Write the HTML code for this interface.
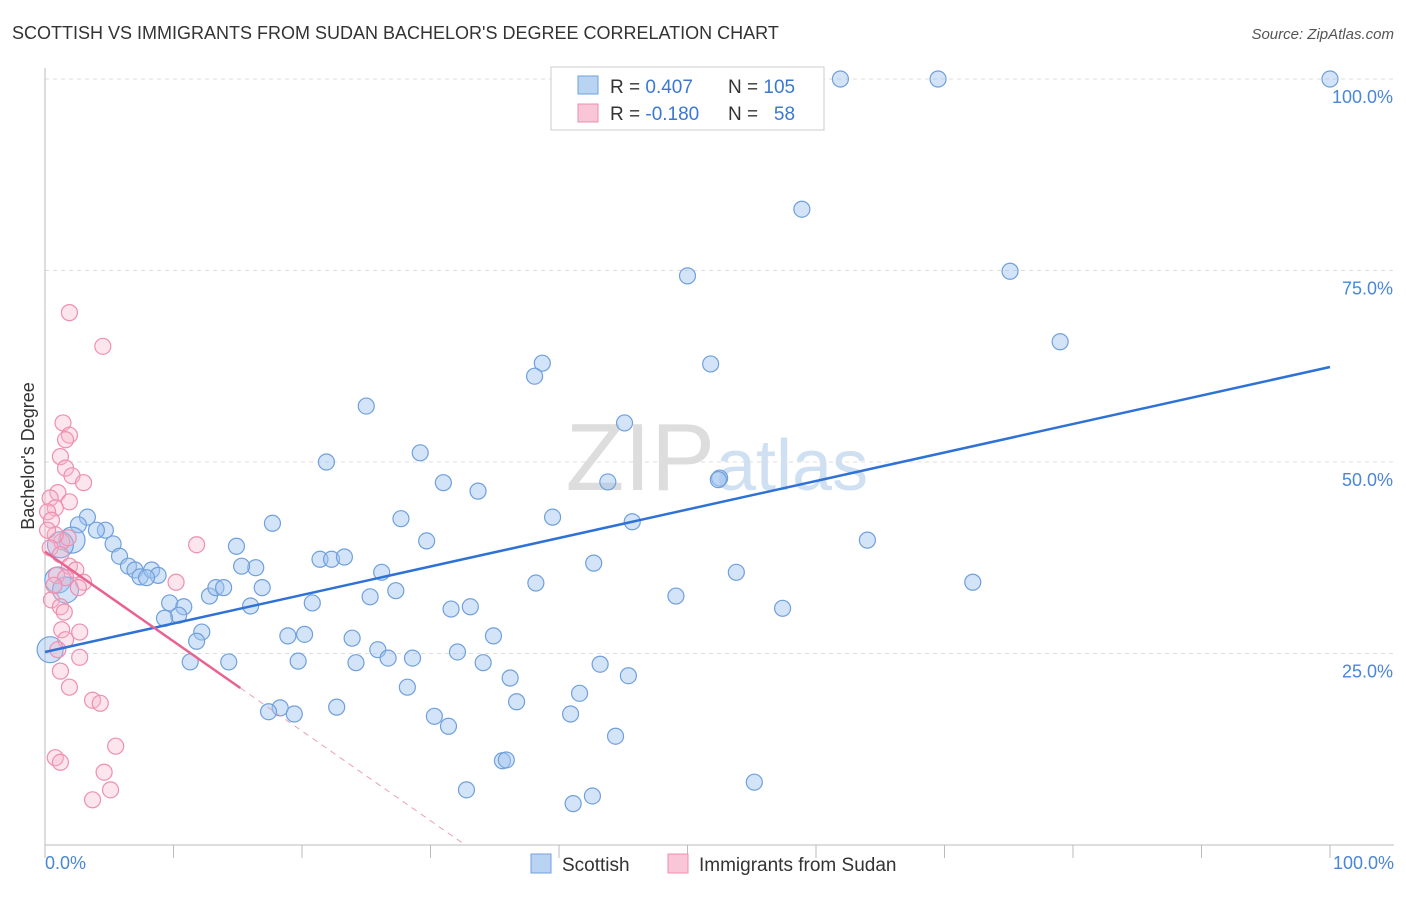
<!DOCTYPE html>
<html><head><meta charset="utf-8"><style>
body{margin:0;background:#fff;font-family:"Liberation Sans",sans-serif}
svg text{font-family:"Liberation Sans",sans-serif}
</style></head><body>
<svg width="1406" height="892" xmlns="http://www.w3.org/2000/svg">
<text x="12" y="39" font-size="18" fill="#333">SCOTTISH VS IMMIGRANTS FROM SUDAN BACHELOR'S DEGREE CORRELATION CHART</text>
<text x="1394" y="39" font-size="15" fill="#555" font-style="italic" text-anchor="end">Source: ZipAtlas.com</text>
<text x="715" y="490" font-size="96" fill="#ddd" text-anchor="end" font-family="Liberation Serif">ZIP</text>
<text x="716" y="490" font-size="72" fill="#cfe0f3">atlas</text>
<g id="grid"></g>
<g id="axes"></g>
<g id="marks"></g>
<text transform="translate(34,456) rotate(-90)" font-size="18" fill="#333" text-anchor="middle">Bachelor's Degree</text>
<text x="45" y="869" font-size="18" fill="#4a86d8">0.0%</text>
<text x="1394" y="869" font-size="18" fill="#4a86d8" text-anchor="end">100.0%</text>
<g>
<rect x="551" y="67" width="273" height="63" fill="#fff" stroke="#ccc"/>
<rect x="578" y="76" width="20" height="18" fill="#b9d3f3" stroke="#6fa0dc"/>
<rect x="578" y="104" width="20" height="18" fill="#f8c6d6" stroke="#ef8fb0"/>
<text x="610" y="93" font-size="19" fill="#333">R = <tspan fill="#3a78d4">0.407</tspan></text>
<text x="728" y="93" font-size="19" fill="#333">N = <tspan fill="#3a78d4">105</tspan></text>
<text x="610" y="120" font-size="19" fill="#333">R = <tspan fill="#3a78d4">-0.180</tspan></text>
<text x="728" y="120" font-size="19" fill="#333">N = <tspan fill="#3a78d4">&#160;&#160;58</tspan></text>
</g>
<g>
<rect x="531" y="854" width="20" height="19" fill="#b9d3f3" stroke="#6fa0dc"/>
<text x="562" y="871" font-size="19" fill="#333">Scottish</text>
<rect x="668" y="854" width="20" height="19" fill="#f8c6d6" stroke="#ef8fb0"/>
<text x="699" y="871" font-size="19" fill="#333">Immigrants from Sudan</text>
</g>
</svg>
<script>
const yTicks=[25,50,75,100];
const yTickLabels=["25.0%","50.0%","75.0%","100.0%"];
const xTicks=[0,10,20,30,40,50,60,70,80,90,100];
const blueX=[61.9,69.5,100,58.9,50.0,75.1,79.0,51.8,38.7,38.1,25.0,45.1,21.9,29.2,31.0,33.7,52.5,52.4,43.8,39.5,45.7,27.7,29.7,17.7,14.9,4.7,4.0,3.3,2.6,2.1,5.3,5.8,6.5,7.0,7.4,8.3,8.8,7.9,9.7,10.8,10.4,9.3,12.2,11.8,11.3,14.3,12.8,13.3,13.9,16.0,16.9,16.4,15.3,21.4,22.3,23.3,26.2,25.3,27.3,20.8,18.9,20.2,23.9,19.7,24.2,25.9,26.7,28.6,32.1,34.1,31.6,33.1,34.9,38.2,42.7,49.1,53.8,57.4,64.0,72.2,43.2,45.4,36.2,36.7,41.6,28.2,22.7,18.3,17.4,19.4,30.3,31.4,40.9,44.4,35.6,35.9,32.8,55.2,42.6,41.1,1.0,0.4,1.2,1.6];
const blueY=[100,100,100,83.0,74.3,74.9,65.7,62.8,62.9,61.2,57.3,55.1,50.0,51.2,47.3,46.2,47.9,47.7,47.4,42.8,42.2,42.6,39.7,42.0,39.0,41.1,41.1,42.8,41.8,39.8,39.3,37.7,36.4,35.9,35.0,35.9,35.2,34.9,31.6,31.1,30.0,29.6,27.8,26.6,23.9,23.9,32.5,33.6,33.6,31.2,33.6,36.2,36.4,37.3,37.3,37.6,35.6,32.4,33.2,31.6,27.3,27.5,27.0,24.0,23.8,25.5,24.4,24.4,25.2,23.8,30.8,31.1,27.3,34.2,36.8,32.5,35.6,30.9,39.8,34.3,23.6,22.1,21.8,18.7,19.8,20.6,18.0,17.9,17.4,17.1,16.8,15.5,17.1,14.2,11.0,11.1,7.2,8.2,6.4,5.4,34.6,25.5,39.2,33.3];
const pinkX=[1.9,4.5,1.4,1.9,1.6,1.2,1.6,2.1,3.0,1.0,0.4,1.9,0.8,0.2,0.5,11.8,1.3,1.8,0.8,0.2,0.4,1.2,1.9,2.4,0.9,1.6,3.0,2.6,0.5,1.2,1.5,0.7,10.2,2.7,1.3,1.6,1.0,2.7,1.2,1.9,3.7,4.3,0.8,1.2,5.5,4.6,5.1,3.7];
const pinkY=[69.5,65.1,55.1,53.5,52.9,50.7,49.2,48.2,47.3,46.0,45.3,44.8,44.0,43.5,42.4,39.2,39.6,40.1,40.5,41.1,38.8,37.9,36.4,35.9,35.2,34.9,34.3,33.6,32.0,31.1,30.4,33.9,34.3,27.8,28.1,26.8,25.5,24.5,22.7,20.6,18.9,18.5,11.4,10.8,12.9,9.5,7.2,5.9];
const blueTrend=[25.2,62.4];
const pinkTrend=[38.3,-78.8];
const X0=45,X1=1330,Y0=845,Y100=79;
const sx=v=>X0+(X1-X0)*v/100, sy=v=>Y0-(Y0-Y100)*v/100;
const NS="http://www.w3.org/2000/svg";
function mk(tag,attrs,parent){const e=document.createElementNS(NS,tag);for(const k in attrs)e.setAttribute(k,attrs[k]);parent.appendChild(e);return e;}
const grid=document.getElementById('grid'),axes=document.getElementById('axes'),marks=document.getElementById('marks');
yTicks.forEach((t,i)=>{
 const l=mk('line',{x1:X0,x2:1394,y1:sy(t),y2:sy(t),stroke:'#ddd','stroke-dasharray':'4,4'},grid);
 
 
 const tx=mk('text',{x:1393,y:sy(t)+24,'font-size':18,fill:'#4a86d8','text-anchor':'end'},grid);
 tx.textContent=yTickLabels[i];
 
 
});
const xa=mk('line',{x1:X0,x2:1394,y1:Y0,y2:Y0,stroke:'#bbb'},axes);


const ya=mk('line',{x1:X0,x2:X0,y1:68,y2:Y0,stroke:'#bbb'},axes);


xTicks.forEach(t=>{
 const l=mk('line',{x1:sx(t),x2:sx(t),y1:Y0,y2:Y0+13,stroke:'#bbb'},axes);
 
 
});
blueX.forEach((x,i)=>{
 const big=x<2.5;
 const c=mk('circle',{cx:sx(x),cy:sy(blueY[i]),r:big?13:8,fill:'rgba(160,196,240,0.45)',stroke:'#6fa0dc','stroke-width':1.2},marks);
 
 
});
pinkX.forEach((x,i)=>{
 const c=mk('circle',{cx:sx(x),cy:sy(pinkY[i]),r:8,fill:'rgba(245,180,200,0.35)',stroke:'#ef8fb0','stroke-width':1.2},marks);
 
 
});
const bt=mk('line',{x1:sx(0),y1:sy(blueTrend[0]),x2:sx(100),y2:sy(blueTrend[1]),stroke:'#2f72d6','stroke-width':2.5},marks);


const pAt=x=>pinkTrend[0]+(pinkTrend[1]-pinkTrend[0])*x/100;
const ps=mk('line',{x1:sx(0),y1:sy(pAt(0)),x2:sx(15.2),y2:sy(pAt(15.2)),stroke:'#e8638f','stroke-width':2.5},marks);


const xEnd=pinkTrend[0]/(pinkTrend[0]-pinkTrend[1])*100;
const pd=mk('line',{x1:sx(15.2),y1:sy(pAt(15.2)),x2:sx(xEnd),y2:sy(0),stroke:'#e8a0b8','stroke-width':1,'stroke-dasharray':'6,5'},marks);


</script>
</body></html>
